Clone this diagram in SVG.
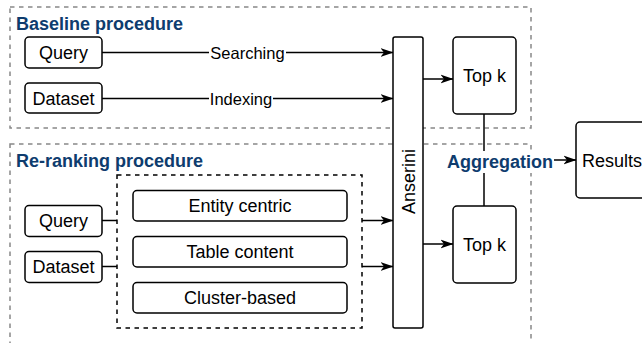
<svg xmlns="http://www.w3.org/2000/svg" width="642" height="343" viewBox="0 0 642 343">
<style>
.node{fill:#fff;stroke:#000;stroke-width:1.5}
.grp{fill:none;stroke:#888;stroke-width:1.5;stroke-dasharray:4.5 4.5}
.inner{fill:none;stroke:#000;stroke-width:1.5;stroke-dasharray:4.5 4.5}
.t{font-family:"Liberation Sans",Arial,Helvetica,sans-serif;font-size:18px;fill:#000;text-anchor:middle}
.lbl{font-family:"Liberation Sans",Arial,Helvetica,sans-serif;font-size:16.5px;fill:#000;text-anchor:middle}
.title{font-family:"Liberation Sans",Arial,Helvetica,sans-serif;font-size:18px;font-weight:bold;fill:#0E3C6E}
.edge{fill:none;stroke:#000;stroke-width:1.5}
</style>
<defs>
<marker id="arr" markerUnits="userSpaceOnUse" markerWidth="14" markerHeight="11" refX="12.5" refY="5.5" orient="auto">
<path d="M0,1 L13,5.5 L0,10 L3.5,5.5 Z" fill="#000"/>
</marker>
</defs>

<g id="baseline-group">
<rect class="grp" x="10" y="7" width="521" height="121"/>
<text class="title" x="16" y="29.5">Baseline procedure</text>
</g>
<g id="reranking-group">
<rect class="grp" x="10" y="144" width="521" height="210"/>
<text class="title" x="16" y="167">Re-ranking procedure</text>
</g>

<g id="connectors">
<line class="edge" x1="102" y1="52.5" x2="393" y2="52.5" marker-end="url(#arr)"/>
<line class="edge" x1="102" y1="98.5" x2="393" y2="98.5" marker-end="url(#arr)"/>
<line class="edge" x1="102" y1="220.5" x2="117" y2="220.5"/>
<line class="edge" x1="102" y1="266.5" x2="117" y2="266.5"/>
<line class="edge" x1="362" y1="220.5" x2="393" y2="220.5" marker-end="url(#arr)"/>
<line class="edge" x1="362" y1="266.5" x2="393" y2="266.5" marker-end="url(#arr)"/>
<line class="edge" x1="423" y1="79" x2="453" y2="79" marker-end="url(#arr)"/>
<line class="edge" x1="423" y1="244" x2="453" y2="244" marker-end="url(#arr)"/>
<line class="edge" x1="484" y1="114" x2="484" y2="206"/>
<line class="edge" x1="554" y1="160" x2="576" y2="160" marker-end="url(#arr)"/>
<rect x="209" y="44" width="77" height="18" fill="#fff"/>
<text class="lbl" x="247.5" y="58.5">Searching</text>
<rect x="209" y="90" width="64" height="18" fill="#fff"/>
<text class="lbl" x="241" y="104.5">Indexing</text>
<rect x="446" y="151" width="108" height="22" fill="#fff"/>
<text class="title" x="500" y="167.5" text-anchor="middle">Aggregation</text>
</g>

<g id="query1"><rect class="node" x="25" y="37" width="77" height="31" rx="4"/><text class="t" x="63.5" y="59">Query</text></g>
<g id="dataset1"><rect class="node" x="25" y="83" width="77" height="30" rx="4"/><text class="t" x="63.5" y="104.5">Dataset</text></g>
<g id="query2"><rect class="node" x="25" y="205.5" width="77" height="31" rx="4"/><text class="t" x="63.5" y="227">Query</text></g>
<g id="dataset2"><rect class="node" x="25" y="251.5" width="77" height="31" rx="4"/><text class="t" x="63.5" y="273">Dataset</text></g>

<g id="reranking-methods">
<rect class="inner" x="117" y="175" width="245" height="153"/>
<g id="entity-centric"><rect class="node" x="133" y="190.5" width="214" height="30.5" rx="4"/><text class="t" x="240" y="212">Entity centric</text></g>
<g id="table-content"><rect class="node" x="133" y="236.5" width="214" height="30.5" rx="4"/><text class="t" x="240" y="258">Table content</text></g>
<g id="cluster-based"><rect class="node" x="133" y="282.5" width="214" height="30.5" rx="4"/><text class="t" x="240" y="304">Cluster-based</text></g>
</g>

<g id="anserini"><rect class="node" x="393" y="37" width="30" height="291" rx="2"/><text class="t" transform="translate(414.5,181.5) rotate(-90)" x="0" y="0">Anserini</text></g>
<g id="topk1"><rect class="node" x="453" y="37" width="63" height="77" rx="4"/><text class="t" x="484.5" y="82">Top k</text></g>
<g id="topk2"><rect class="node" x="453" y="206" width="63" height="77" rx="4"/><text class="t" x="484.5" y="251">Top k</text></g>
<g id="results"><rect class="node" x="576" y="122" width="74" height="76" rx="4"/><text class="t" x="612" y="166.5">Results</text></g>
</svg>
